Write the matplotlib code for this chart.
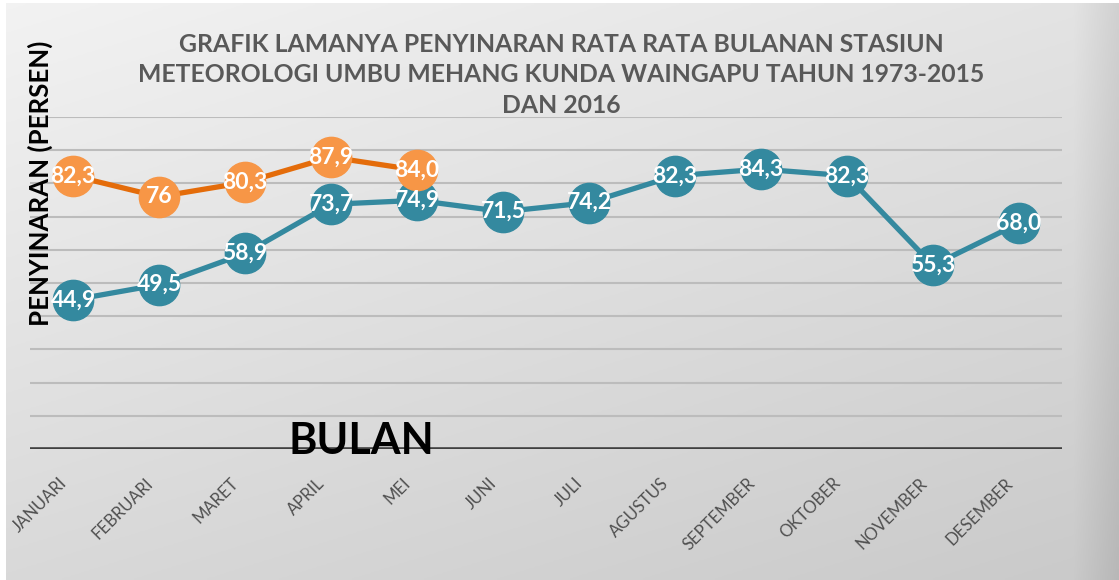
import matplotlib
matplotlib.use('Agg')
import matplotlib.pyplot as plt
import numpy as np

# data
bulan = ['JANUARI', 'FEBRUARI', 'MARET', 'APRIL', 'MEI', 'JUNI', 'JULI',
         'AGUSTUS', 'SEPTEMBER', 'OKTOBER', 'NOVEMBER', 'DESEMBER']
rata_1973_2015 = [44.9, 49.5, 58.9, 73.7, 74.9, 71.5, 74.2, 82.3, 84.3, 82.3, 55.3, 68.0]
label_1973_2015 = ['44,9', '49,5', '58,9', '73,7', '74,9', '71,5', '74,2',
                   '82,3', '84,3', '82,3', '55,3', '68,0']
tahun_2016 = [82.3, 76, 80.3, 87.9, 84.0]
label_2016 = ['82,3', '76', '80,3', '87,9', '84,0']

judul = ('GRAFIK LAMANYA PENYINARAN RATA RATA BULANAN STASIUN\n'
         'METEOROLOGI UMBU MEHANG KUNDA WAINGAPU TAHUN 1973-2015\n'
         'DAN 2016')

BIRU = '#34899f'
ORANYE = '#f79646'
ORANYE_GARIS = '#e46c0a'
FONT = ['Lato', 'DejaVu Sans']

W, H = 1119, 580
fig = plt.figure(figsize=(W / 100, H / 100), dpi=100, facecolor='white')

# latar gradien abu-abu
bg = fig.add_axes([6 / W, 0, 1 - 6 / W, 1 - 3 / H])
xs = np.linspace(0, 1, 400)
ys = np.linspace(0, 1, 200)
X, Y = np.meshgrid(xs, ys)
v = 0.95 - 0.06 * X - 0.10 * Y - 0.07 * np.clip((X - 0.96) / 0.04, 0, 1)
bg.imshow(np.dstack([v, v, v]), aspect='auto', extent=[0, 1, 0, 1], origin='upper')
bg.axis('off')

# plot utama
x0, x1 = 30, 1062
y_nol, y_seratus = 449, 117
ax = fig.add_axes([x0 / W, (H - y_nol) / H, (x1 - x0) / W, (y_nol - y_seratus) / H])
ax.patch.set_alpha(0)
idx = np.arange(len(bulan))
ax.set_xlim(-0.5, len(bulan) - 0.5)
ax.set_ylim(0, 100)

for g in range(10, 101, 10):
    ax.axhline(g, color='#bcbcbc', lw=1.5, zorder=1)
ax.axhline(0, color='#404040', lw=2.6, zorder=1)

ax.plot(idx, rata_1973_2015, color=BIRU, lw=3.8, marker='o', ms=29,
        mfc=BIRU, mec=BIRU, zorder=3)
ax.plot(idx[:len(tahun_2016)], tahun_2016, color=ORANYE_GARIS, lw=3.8, zorder=4)
ax.plot(idx[:len(tahun_2016)], tahun_2016, ls='none', marker='o', ms=29,
        mfc=ORANYE, mec=ORANYE, zorder=5)

for i, (val, lab) in enumerate(zip(rata_1973_2015, label_1973_2015)):
    ax.text(i, val, lab, ha='center', va='center', color='white',
            fontsize=16.5, fontweight='bold', family=FONT, zorder=6)
for i, (val, lab) in enumerate(zip(tahun_2016, label_2016)):
    ax.text(i, val, lab, ha='center', va='center', color='white',
            fontsize=16.5, fontweight='bold', family=FONT, zorder=6)

ax.set_xticks([])
ax.set_yticks([])
for s in ax.spines.values():
    s.set_visible(False)

for i, nama in enumerate(bulan):
    ax.text(i - 0.1, -9.5, nama, rotation=45, rotation_mode='anchor',
            ha='right', va='center', color='#505050', fontsize=12,
            family=FONT, clip_on=False)

ax.text(3.35, 2.3, 'BULAN', ha='center', va='center', color='black',
        fontsize=31, fontweight='bold', family=FONT, zorder=7)

fig.text(40 / W, 1 - 183 / H, 'PENYINARAN (PERSEN)', rotation=90,
         ha='center', va='center', color='black', fontsize=18.6,
         fontweight='bold', family=FONT)

fig.text(561 / W, 1 - 75 / H, judul, ha='center', va='center',
         color='#595959', fontsize=17.8, fontweight='bold', family=FONT,
         linespacing=1.4)

fig.savefig('out.png', dpi=100, facecolor='white')
